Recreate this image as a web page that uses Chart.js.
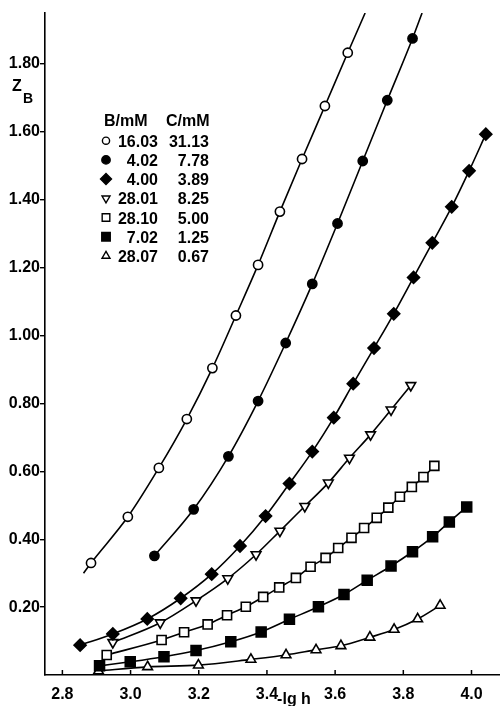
<!DOCTYPE html>
<html>
<head>
<meta charset="utf-8">
<script src="https://cdn.jsdelivr.net/npm/chart.js@4.4.1/dist/chart.umd.min.js"></script>
<style>
  html, body { margin: 0; padding: 0; background: #fff; }
  #wrap { width: 500px; height: 706px; }
</style>
</head>
<body>
<div id="wrap"><canvas id="zbChart" width="500" height="706"></canvas></div>
<script>
// -lg h (x) against Z_B (y)
const openCircleX = [2.884, 2.992, 3.083, 3.165, 3.240, 3.309, 3.374, 3.438, 3.503, 3.570, 3.637];
const openCircleY = [0.330, 0.466, 0.610, 0.754, 0.904, 1.059, 1.208, 1.365, 1.520, 1.676, 1.833];

const filledCircleX = [3.070, 3.185, 3.287, 3.374, 3.455, 3.533, 3.607, 3.681, 3.753, 3.827];
const filledCircleY = [0.351, 0.488, 0.644, 0.807, 0.978, 1.152, 1.330, 1.514, 1.693, 1.875];

const diamondX = [2.852, 2.948, 3.049, 3.147, 3.238, 3.321, 3.396, 3.466, 3.533, 3.596, 3.653, 3.714, 3.772, 3.830, 3.885, 3.942, 3.993, 4.042];
const diamondY = [0.088, 0.121, 0.165, 0.226, 0.297, 0.380, 0.468, 0.564, 0.658, 0.758, 0.858, 0.963, 1.064, 1.171, 1.273, 1.379, 1.485, 1.593];

const downTriX = [2.948, 3.087, 3.192, 3.285, 3.368, 3.438, 3.511, 3.580, 3.642, 3.704, 3.764, 3.822];
const downTriY = [0.096, 0.154, 0.219, 0.284, 0.355, 0.424, 0.497, 0.566, 0.639, 0.708, 0.781, 0.853];

const openSquareX = [2.930, 3.091, 3.157, 3.226, 3.283, 3.338, 3.389, 3.436, 3.485, 3.528, 3.572, 3.609, 3.648, 3.685, 3.722, 3.756, 3.790, 3.825, 3.859, 3.891];
const openSquareY = [0.059, 0.103, 0.126, 0.149, 0.176, 0.201, 0.230, 0.258, 0.286, 0.319, 0.345, 0.374, 0.404, 0.433, 0.463, 0.493, 0.525, 0.554, 0.583, 0.616];

const filledSquareX = [2.909, 2.999, 3.098, 3.192, 3.294, 3.383, 3.466, 3.551, 3.626, 3.694, 3.764, 3.827, 3.886, 3.935, 3.986];
const filledSquareY = [0.027, 0.039, 0.054, 0.072, 0.098, 0.127, 0.164, 0.201, 0.237, 0.279, 0.321, 0.363, 0.407, 0.451, 0.495];

const upTriX = [2.906, 3.050, 3.199, 3.353, 3.456, 3.544, 3.617, 3.702, 3.773, 3.842, 3.908];
const upTriY = [0.012, 0.024, 0.029, 0.046, 0.059, 0.074, 0.086, 0.111, 0.134, 0.165, 0.205];

// where the drawn curves run past the first / last point
const openCircleCurveStart = [2.862, 0.300];
const openCircleCurveEnd = [3.688, 1.950];
const filledCircleCurveEnd = [3.855, 1.950];

// legend table
const legendB = ['16.03', '4.02', '4.00', '28.01', '28.10', '7.02', '28.07'];
const legendC = ['31.13', '7.78', '3.89', '8.25', '5.00', '1.25', '0.67'];

const xTicks = [2.8, 3.0, 3.2, 3.4, 3.6, 3.8, 4.0];
const yTicks = [0.2, 0.4, 0.6, 0.8, 1.0, 1.2, 1.4, 1.6, 1.8];

const FONT = "'Liberation Sans', Arial, sans-serif";

const series = [
  { xs: openCircleX, ys: openCircleY, style: 'circle', rot: 0, r: 4.6, lr: 3.6, fill: '#fff', start: openCircleCurveStart, end: openCircleCurveEnd },
  { xs: filledCircleX, ys: filledCircleY, style: 'circle', rot: 0, r: 4.6, lr: 4.2, fill: '#000', end: filledCircleCurveEnd },
  { xs: diamondX, ys: diamondY, style: 'rectRot', rot: 0, r: 6, lr: 5.5, fill: '#000' },
  { xs: downTriX, ys: downTriY, style: 'triangle', rot: 180, r: 5.6, lr: 4.6, fill: '#fff' },
  { xs: openSquareX, ys: openSquareY, style: 'rect', rot: 0, r: 6.4, lr: 5.4, fill: '#fff' },
  { xs: filledSquareX, ys: filledSquareY, style: 'rect', rot: 0, r: 7, lr: 6, fill: '#000' },
  { xs: upTriX, ys: upTriY, style: 'triangle', rot: 0, r: 5.6, lr: 4.6, fill: '#fff' }
];

const toPts = (xs, ys) => xs.map((x, i) => ({ x: x, y: ys[i] }));

const datasets = [];
// curves first so markers sit on top
series.forEach(s => {
  let pts = toPts(s.xs, s.ys);
  if (s.start) pts.unshift({ x: s.start[0], y: s.start[1] });
  if (s.end) pts.push({ x: s.end[0], y: s.end[1] });
  datasets.push({
    data: pts,
    showLine: true,
    borderColor: '#000',
    borderWidth: 1.6,
    pointRadius: 0,
    fill: false,
    cubicInterpolationMode: 'monotone',
    order: 2
  });
});
series.forEach(s => {
  datasets.push({
    data: toPts(s.xs, s.ys),
    showLine: false,
    pointStyle: s.style,
    rotation: s.rot,
    pointRadius: s.r,
    pointBackgroundColor: s.fill,
    pointBorderColor: '#000',
    pointBorderWidth: 1.6,
    clip: false,
    order: 1
  });
});

// x ticks point up into the plot, plus the axis titles and the legend table
const extras = {
  id: 'extras',
  afterDraw(chart) {
    const ctx = chart.ctx;
    const xs = chart.scales.x, ys = chart.scales.y;
    ctx.save();
    ctx.strokeStyle = '#000';
    ctx.lineWidth = 1.5;
    xTicks.forEach(v => {
      const px = xs.getPixelForValue(v);
      ctx.beginPath();
      ctx.moveTo(px, ys.bottom);
      ctx.lineTo(px, ys.bottom - 5);
      ctx.stroke();
    });

    ctx.fillStyle = '#000';
    ctx.textBaseline = 'alphabetic';
    ctx.textAlign = 'center';
    ctx.font = 'bold 16px ' + FONT;
    ctx.fillText('-lg h', 294, 704);

    ctx.textAlign = 'left';
    ctx.font = 'bold 16px ' + FONT;
    ctx.fillText('Z', 12, 91);
    ctx.font = 'bold 14px ' + FONT;
    ctx.fillText('B', 23, 103);

    // legend
    ctx.font = 'bold 16px ' + FONT;
    ctx.fillText('B/mM', 104, 126);
    ctx.fillText('C/mM', 166, 126);
    series.forEach((s, i) => {
      const y = 140.7 + i * 19.2;
      ctx.fillStyle = s.fill;
      ctx.strokeStyle = '#000';
      ctx.lineWidth = 1.4;
      Chart.helpers.drawPoint(ctx, { pointStyle: s.style, rotation: s.rot, radius: s.lr, borderWidth: 1.4 }, 106, y);
      ctx.fillStyle = '#000';
      ctx.textAlign = 'right';
      ctx.fillText(legendB[i], 158, y + 6);
      ctx.fillText(legendC[i], 209, y + 6);
    });
    ctx.restore();
  }
};

new Chart(document.getElementById('zbChart'), {
  type: 'scatter',
  data: { datasets: datasets },
  options: {
    responsive: false,
    devicePixelRatio: 1,
    animation: false,
    layout: { autoPadding: false, padding: { top: 13, right: 0, left: 0, bottom: 0 } },
    plugins: { legend: { display: false }, tooltip: { enabled: false } },
    scales: {
      x: {
        type: 'linear',
        min: 2.749,
        max: 4.0836,
        afterBuildTicks: s => { s.ticks = xTicks.map(v => ({ value: v })); },
        afterFit: s => { s.height = 31; s.paddingLeft = 0; s.paddingRight = 0; },
        grid: { display: false },
        border: { display: true, color: '#000', width: 1.6 },
        ticks: {
          color: '#000',
          padding: 2,
          maxRotation: 0,
          autoSkip: false,
          font: { family: FONT, size: 16, weight: 'bold' },
          callback: v => v.toFixed(1)
        }
      },
      y: {
        min: 0,
        max: 1.95,
        afterBuildTicks: s => { s.ticks = yTicks.map(v => ({ value: v })); },
        afterFit: s => { s.width = 45; s.paddingTop = 0; s.paddingBottom = 0; },
        grid: { display: true, drawOnChartArea: false, drawTicks: true, tickLength: 5, color: '#000', lineWidth: 1.4 },
        border: { display: true, color: '#000', width: 1.6 },
        ticks: {
          color: '#000',
          padding: 0,
          autoSkip: false,
          font: { family: FONT, size: 16, weight: 'bold' },
          callback: v => v.toFixed(2)
        }
      }
    }
  },
  plugins: [extras]
});
</script>
</body>
</html>
